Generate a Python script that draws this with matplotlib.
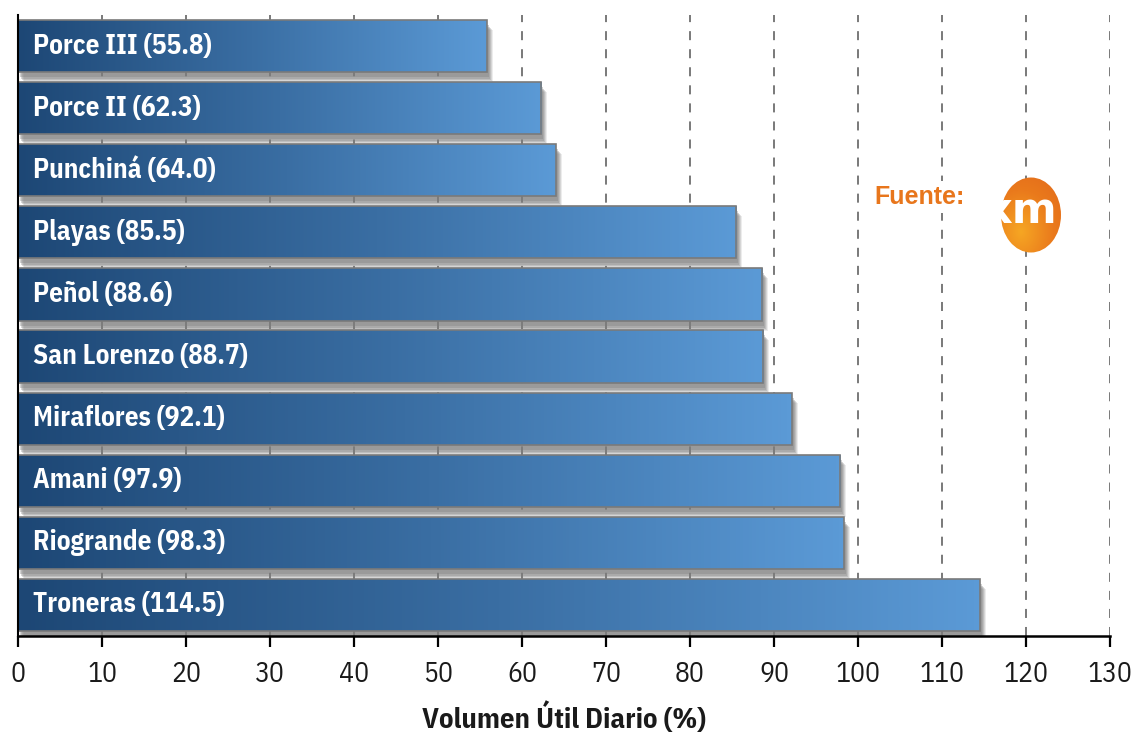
import numpy as np
import matplotlib
matplotlib.use("Agg")
import matplotlib.pyplot as plt
from matplotlib import font_manager
from matplotlib.patches import Rectangle, Ellipse
from matplotlib.colors import LinearSegmentedColormap
import matplotlib.transforms as mtransforms

# datos (volumen util diario, %)
embalses = ["Troneras", "Riogrande", "Amani", "Miraflores", "San Lorenzo",
            "Peñol", "Playas", "Punchiná", "Porce II", "Porce III"]
volumen = [114.5, 98.3, 97.9, 92.1, 88.7, 88.6, 85.5, 64.0, 62.3, 55.8]
xticks = list(range(0, 131, 10))

nombres = {f.name for f in font_manager.fontManager.ttflist}
narrow = next((n for n in ["Liberation Sans Narrow", "IBM Plex Sans Condensed",
                           "Open Sans Condensed"] if n in nombres), "DejaVu Sans")
familia = [narrow, "DejaVu Sans"]

W, H, DPI = 1134, 742, 100
fig = plt.figure(figsize=(W / DPI, H / DPI), dpi=DPI)
ax = fig.add_axes([18 / W, 1 - 636 / H, (1110 - 18) / W, (636 - 15) / H])
ax.set_xlim(0, 130)
ax.set_ylim(-0.5, len(embalses) - 0.5)

# rejilla discontinua
for x in xticks[1:]:
    ax.axvline(x, color="#6e6e6e", lw=1.3, ls=(0, (5, 5)), zorder=0)

cmap = LinearSegmentedColormap.from_list("azul", ["#1d4775", "#3a6ea3", "#5b9ad6"])
grad = np.linspace(0, 1, 256).reshape(1, -1)
alto = 0.84

for i, (nombre, v) in enumerate(zip(embalses, volumen)):
    y0 = i - alto / 2
    # sombra difusa
    capas = [(6, -10, 0.14), (5, -9, 0.2), (4, -8, 0.26), (3, -7, 0.3), (2, -5, 0.35)]
    for dx, dy, a in capas:
        tr = mtransforms.offset_copy(ax.transData, fig=fig, x=dx, y=dy, units="dots")
        ax.add_patch(Rectangle((0, y0), v, alto, transform=tr, facecolor="#7d7d7d",
                               edgecolor="none", alpha=a, zorder=1))
    rect = Rectangle((0, y0), v, alto, facecolor="none", edgecolor="#7a7a7a",
                     lw=1.2, zorder=3)
    ax.add_patch(rect)
    im = ax.imshow(grad, cmap=cmap, aspect="auto", extent=[0, v, y0, y0 + alto],
                   zorder=2, interpolation="bilinear")
    im.set_clip_path(rect)
    ax.text(1.8, i, f"{nombre} ({v:.1f})", color="white", fontsize=19.5,
            fontweight="bold", family=familia, va="center", ha="left", zorder=4)

# ejes
for s in ["top", "right"]:
    ax.spines[s].set_visible(False)
ax.spines["left"].set_linewidth(1.5)
ax.spines["bottom"].set_linewidth(1.8)
ax.spines["left"].set_zorder(5)
ax.set_yticks([])
ax.set_xticks(xticks)
ax.tick_params(axis="x", direction="out", length=8, width=1.6, pad=10,
               labelsize=20, labelcolor="#1a1a1a")
for lbl in ax.get_xticklabels():
    lbl.set_family(familia)
ax.set_xlabel("Volumen Útil Diario (%)", fontsize=20.5, fontweight="bold",
              family=familia, color="#1a1a1a", labelpad=10)

# fuente XM
naranja = "#e8761c"
ax.text((965 - 18) / 8.4, (636 - 197) / 62.1 - 0.5, "Fuente:", color=naranja,
        fontsize=18, fontweight="bold", family=["Liberation Sans", "DejaVu Sans"],
        ha="right", va="center", zorder=4,
        bbox=dict(boxstyle="square,pad=0.15", facecolor="white", edgecolor="none"))
cx, cy = (1031 - 18) / 8.4, (636 - 215) / 62.1 - 0.5
elipse = Ellipse((cx, cy), 60 / 8.4, 75 / 62.1, facecolor="none", edgecolor="none", zorder=4)
ax.add_patch(elipse)
cmap_o = LinearSegmentedColormap.from_list("nar", ["#f6a623", "#ea7a1c", "#e0651a"])
gy, gx = np.mgrid[0:1:100j, 0:1:100j]
im = ax.imshow(np.hypot(gx - 0.35, gy - 0.3), cmap=cmap_o, aspect="auto",
               extent=[cx - 4, cx + 4, cy + 0.7, cy - 0.7], zorder=4)
im.set_clip_path(elipse)
tx, ty = (1021 - 18) / 8.4, (636 - 223) / 62.1 - 0.5
ax.text(tx, ty, "xm", color="white", fontsize=31, fontweight="bold",
        family="DejaVu Sans", ha="center", va="baseline", zorder=6)
ax.set_xlim(0, 130)
ax.set_ylim(-0.5, len(embalses) - 0.5)

fig.savefig("out.png", dpi=DPI)
